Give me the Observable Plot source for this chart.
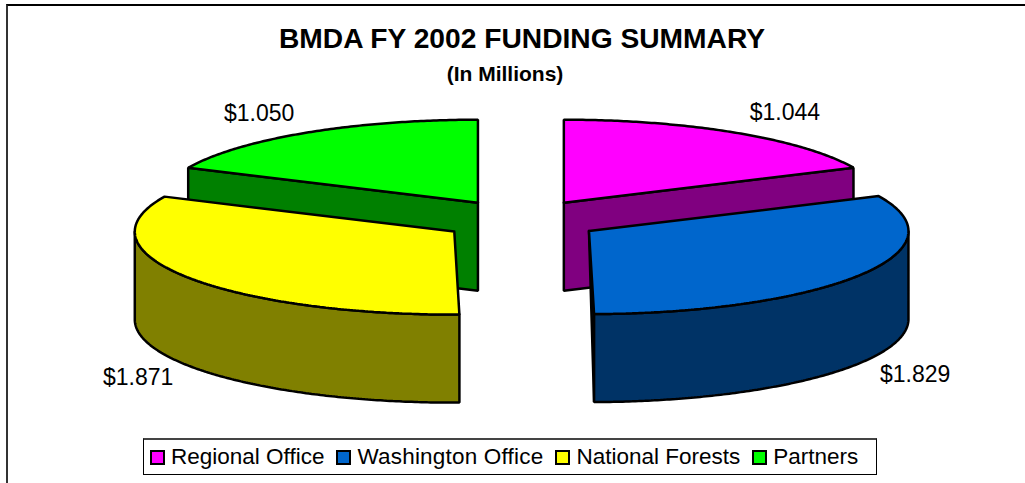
<!DOCTYPE html>
<html><head><meta charset="utf-8">
<script src="https://cdn.jsdelivr.net/npm/d3@7"></script>
<script src="https://cdn.jsdelivr.net/npm/@observablehq/plot@0.6"></script>
<style>
html,body{margin:0;padding:0;background:#fff;}
#page{position:relative;width:1025px;height:483px;overflow:hidden;font-family:"Liberation Sans",Arial,sans-serif;color:#000;}
#frame{position:absolute;left:6px;top:4px;width:1040px;height:500px;border:2px solid #000;box-sizing:border-box;border-left-color:#333;}
#title{position:absolute;left:0;width:1044px;top:22px;text-align:center;font-weight:bold;font-size:28.2px;line-height:32px;}
#subtitle{position:absolute;left:0;width:1010px;top:64px;text-align:center;font-weight:bold;font-size:21px;line-height:20px;}
#chart{position:absolute;left:0;top:0;}
#legend{position:absolute;left:143px;top:438px;width:734px;height:37px;box-sizing:border-box;border:1px solid #000;border-top:2px solid #444;background:#fff;display:flex;align-items:center;padding-left:6px;font-size:22.5px;white-space:nowrap;}
#legend i{display:inline-block;width:11px;height:11px;border:2px solid #000;margin-right:6px;}
#legend span{margin-right:12px;}
#legend span:nth-of-type(2){letter-spacing:.2px;}
</style></head><body>
<div id="page">
<div id="frame"></div>
<div id="chart"></div>
<div id="title">BMDA FY 2002 FUNDING SUMMARY</div>
<div id="subtitle">(In Millions)</div>
<div id="legend"></div>
</div>
<script>
const categories = ["Regional Office","Washington Office","National Forests","Partners"];
const values = [1.044,1.829,1.871,1.050];
const valueLabels = ["$1.044","$1.829","$1.871","$1.050"];
const topColors = ["#ff00ff","#0066cc","#ffff00","#00ff00"];
const sideColors = ["#800080","#003366","#808000","#008000"];

// pie geometry (3-D projection of an exploded pie)
const W=1025,H=483,cx=520.5,cy=219.7,rx=319.5,ry=83,depth=88,explode=0.25;
const labelKx=[1.29,1.2,1.185,1.27], labelKy=1.28;
const total=d3.sum(values);
let acc=0;
const slices=categories.map((c,i)=>{
  const a0=acc/total*2*Math.PI; acc+=values[i];
  const a1=acc/total*2*Math.PI, mid=(a0+a1)/2;
  return {c,i,a0,a1,mid,ox:cx+explode*rx*Math.sin(mid),oy:cy-explode*ry*Math.cos(mid)};
});
// slight perspective warp of the drawn angle, strongest toward the viewer
const warp=a=>a+0.010*(1-Math.cos(a))/2;
const pt=(s,a,dz=0)=>[s.ox+rx*Math.sin(warp(a)),s.oy-ry*Math.cos(warp(a))+dz];
const arc=(s,a,b,dz=0)=>{const n=Math.max(2,Math.ceil(Math.abs(b-a)/0.01));
  return d3.range(n+1).map(k=>pt(s,a+(b-a)*k/n,dz));};
const faces=[];
const add=(id,color,poly)=>{const p=[...poly,poly[0]];
  p.forEach(([x,y])=>faces.push({id,color,x,y}));};
const [reg,was,nat,par]=slices;
const cen=s=>[s.ox,s.oy];
const cenD=s=>[s.ox,s.oy+depth];
// back slices first
add("parSide",sideColors[3],[cen(par),pt(par,par.a0),pt(par,par.a0,depth),cenD(par)]);
add("parTop",topColors[3],[cen(par),...arc(par,par.a0,par.a1)]);
add("regSide",sideColors[0],[cen(reg),pt(reg,reg.a1),pt(reg,reg.a1,depth),cenD(reg)]);
add("regTop",topColors[0],[cen(reg),...arc(reg,reg.a0,reg.a1)]);
// front slices
add("natWall",sideColors[2],[...arc(nat,nat.a0,3*Math.PI/2),...arc(nat,3*Math.PI/2,nat.a0,depth)]);
add("natTop",topColors[2],[cen(nat),...arc(nat,nat.a0,nat.a1)]);
add("wasCut",sideColors[1],[cen(was),pt(was,was.a1),pt(was,was.a1,depth)]);
add("wasWall",sideColors[1],[...arc(was,Math.PI/2,was.a1),...arc(was,was.a1,Math.PI/2,depth)]);
add("wasTop",topColors[1],[cen(was),...arc(was,was.a0,was.a1)]);

// value labels placed outward along each slice's mid angle
const labels=slices.map((s,i)=>({
  text:valueLabels[i],
  x:s.ox+labelKx[i]*rx*Math.sin(s.mid),
  y:s.oy-labelKy*ry*Math.cos(s.mid)+(Math.cos(s.mid)<0?depth:0)
}));

const plot=Plot.plot({
  width:W,height:H,margin:0,
  x:{domain:[0,W],axis:null},
  y:{domain:[H,0],axis:null},
  color:{type:"identity"},
  style:{background:"transparent"},
  marks:[
    Plot.line(faces,{x:"x",y:"y",z:"id",fill:"color",stroke:"#000",strokeWidth:2.5,curve:"linear",strokeLinejoin:"miter"}),
    Plot.text(labels,{x:"x",y:"y",text:"text",fontSize:23,fill:"#000",fontFamily:"Liberation Sans, Arial, sans-serif"})
  ]
});
document.getElementById("chart").append(plot);
const lg=document.getElementById("legend");
categories.forEach((c,i)=>{
  const sw=document.createElement("i");sw.style.background=topColors[i];
  const t=document.createElement("span");t.textContent=c;
  lg.append(sw,t);
});
</script>
</body></html>
